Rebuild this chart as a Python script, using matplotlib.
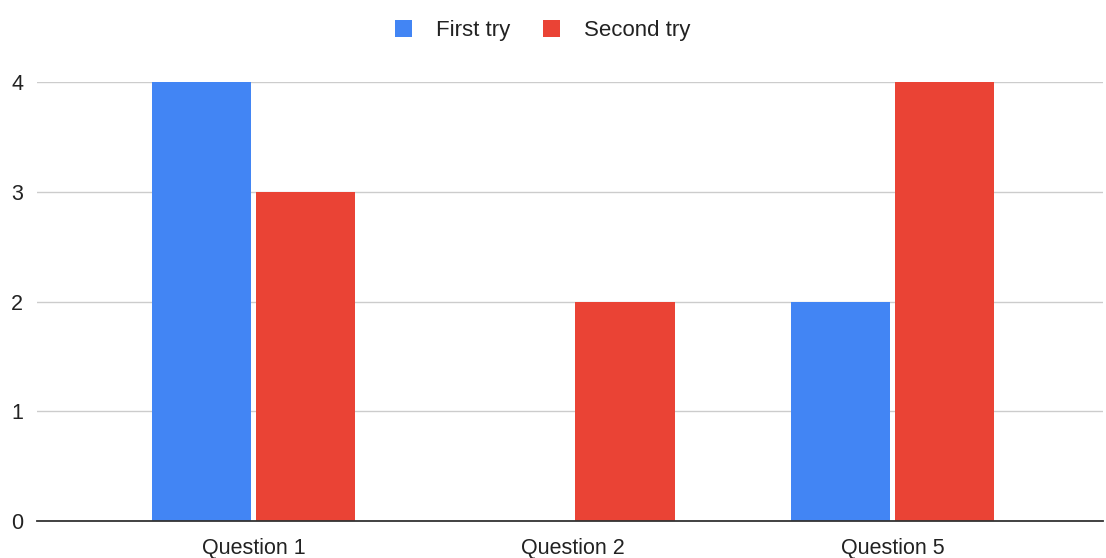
import matplotlib.pyplot as plt
import numpy as np

categories = ["Question 1", "Question 2", "Question 5"]
first_try = [4, 0, 2]
second_try = [3, 2, 4]
yticks = [0, 1, 2, 3, 4]

plt.rcParams['font.family'] = ['Liberation Sans', 'DejaVu Sans']

fig = plt.figure(figsize=(11.06, 5.58), dpi=100)
ax = fig.add_axes([37 / 1106, 37 / 558, 1066 / 1106, 439 / 558])

x = np.arange(len(categories))
w = 0.3115
off = w / 2 + 0.007
ax.bar(x - off, first_try, w, color='#4285F4', label='First try', zorder=3)
ax.bar(x + off, second_try, w, color='#EA4335', label='Second try', zorder=3)

ax.set_xlim(-0.678, 2.659)
ax.set_ylim(0, 4)
ax.set_yticks(yticks)
ax.set_xticks(x)
ax.set_xticklabels(categories)
ax.grid(axis='y', color='#cccccc', linewidth=1, zorder=0)
ax.set_axisbelow(True)
for s in ['top', 'right', 'left']:
    ax.spines[s].set_visible(False)
ax.spines['bottom'].set_color('#333333')
ax.spines['bottom'].set_linewidth(1.3)
ax.spines['bottom'].set_zorder(4)
ax.tick_params(axis='both', length=0, labelsize=15.5, colors='#222222')
ax.tick_params(axis='y', pad=10)
ax.tick_params(axis='x', pad=12)

fig.legend(loc='upper center', bbox_to_anchor=(0.4905, 0.992), ncol=2, frameon=False,
           fontsize=16, handlelength=0.78, handleheight=0.78, handletextpad=1.05,
           columnspacing=1.5, labelcolor='#222222', borderaxespad=0.3)

fig.savefig("out.png", dpi=100)
